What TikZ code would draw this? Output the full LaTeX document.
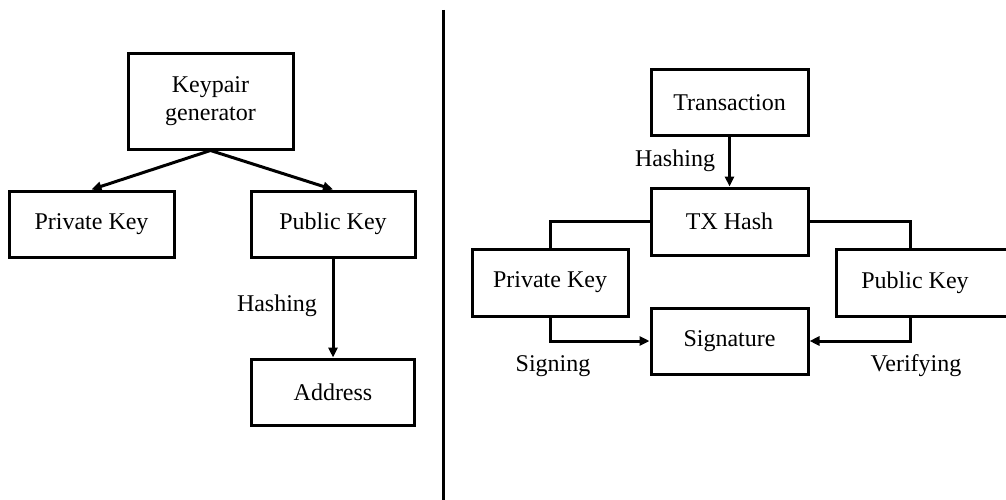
\documentclass[tikz,border=0pt]{standalone}
\usepackage{fontspec}
\setmainfont{Liberation Serif}
\usetikzlibrary{arrows.meta,calc}
\begin{document}
\begin{tikzpicture}[x=1pt,y=-1pt,
  box/.style={draw=black,line width=3pt,rectangle,inner sep=0pt,align=center,
    font=\fontsize{24}{28}\selectfont},
  lbl/.style={font=\fontsize{24}{28}\selectfont,inner sep=0pt},
  link/.style={draw=black,line width=3pt},
  flow/.style={link,-{Triangle[length=10pt,width=9pt]}}]
\useasboundingbox (0,0) rectangle (1006,500);
\clip (0,0) rectangle (1006,500);

% key generation
\node[box,minimum width=165pt,minimum height=95pt] (kg) at (210.5,101.5) {Keypair\\generator};
\node[box,minimum width=165pt,minimum height=66pt] (priv) at (91.5,224) {Private Key};
\node[box,minimum width=164pt,minimum height=66pt] (pub) at (333,224) {Public Key};
\node[box,minimum width=163pt,minimum height=66pt] (addr) at (333,392) {Address};
\draw[flow] (kg.south) -- (priv.north);
\draw[flow] (kg.south) -- (pub.north);
\draw[flow] (pub.south) -- (addr.north);
\node[lbl] (hash1) at (277,306) {Hashing};

% divider
\coordinate (divtop) at (443,10);
\coordinate (divbot) at (443,500);
\draw[link] (divtop) -- (divbot);

% signing and verification
\node[box,minimum width=157pt,minimum height=66pt] (tx) at (729.5,103) {Transaction};
\node[box,minimum width=157pt,minimum height=67pt] (txh) at (729.5,221.5) {TX Hash};
\node[box,minimum width=156pt,minimum height=67pt] (rpriv) at (550,282.5) {Private Key};
\node[box,minimum width=177pt,minimum height=67pt,anchor=west] (rpub) at (835,282.5)
  {\makebox[157pt][c]{Public Key}\hspace*{20pt}};
\node[box,minimum width=157pt,minimum height=66pt] (sig) at (729.5,341) {Signature};
\coordinate (pubtop) at ([xshift=75pt]rpub.north west);
\coordinate (pubbot) at ([xshift=75pt]rpub.south west);

\draw[flow] (tx.south) -- (txh.north);
\draw[link] (txh.west) -| (rpriv.north);
\draw[link] (txh.east) -| (pubtop);
\draw[flow] (rpriv.south) |- (sig.west);
\draw[flow] (pubbot) |- (sig.east);

\node[lbl] (hash2) at (675,161) {Hashing};
\node[lbl] (signing) at (553,366) {Signing};
\node[lbl] (verify) at (916,366) {Verifying};
\end{tikzpicture}
\end{document}
